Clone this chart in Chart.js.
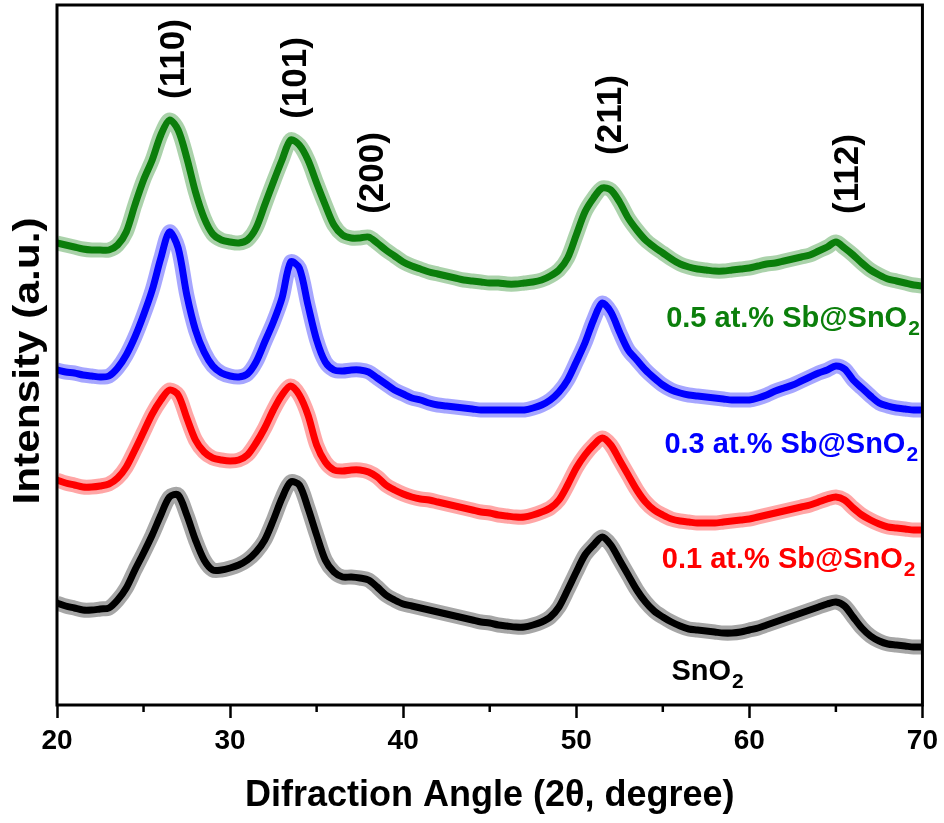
<!DOCTYPE html>
<html>
<head>
<meta charset="utf-8">
<script src="https://cdn.jsdelivr.net/npm/chart.js@4"></script>
<style>
  html, body { margin: 0; padding: 0; background: #fff; }
  canvas { display: block; }
</style>
</head>
<body>
<canvas id="xrd" width="944" height="823"></canvas>
<script>
// 2-theta positions (degree)
const angles = [
  20, 20.5, 21, 21.5, 22, 22.5, 23, 23.5, 24, 24.5, 25, 25.5, 26, 26.5, 27, 27.5, 28, 28.5, 29, 29.5,
  30, 30.5, 31, 31.5, 32, 32.5, 33, 33.5, 34, 34.5, 35, 35.5, 36, 36.5, 37, 37.5, 38, 38.5, 39, 39.5,
  40, 40.5, 41, 41.5, 42, 42.5, 43, 43.5, 44, 44.5, 45, 45.5, 46, 46.5, 47, 47.5, 48, 48.5, 49, 49.5,
  50, 50.5, 51, 51.5, 52, 52.5, 53, 53.5, 54, 54.5, 55, 55.5, 56, 56.5, 57, 57.5, 58, 58.5, 59, 59.5,
  60, 60.5, 61, 61.5, 62, 62.5, 63, 63.5, 64, 64.5, 65, 65.5, 66, 66.5, 67, 67.5, 68, 68.5, 69, 69.5, 70
];

// intensities (a.u., stacked as in the figure)
const sb05 = [
  462, 460, 458, 456, 455, 455, 455, 460, 473, 500, 525, 545, 570, 585, 575, 547, 513, 487, 471, 465,
  463, 462, 465, 477, 500, 523, 545, 565, 560, 545, 522, 500, 480, 470, 467, 467, 468, 462, 455, 449,
  443, 439, 436, 433, 431, 429, 427, 425, 424, 423, 422, 422, 421, 421, 422, 423, 425, 429, 435, 447,
  470, 493, 507, 517, 515, 503, 487, 475, 465, 458, 452, 446, 441, 438, 436, 435, 434, 434, 435, 436,
  437, 439, 441, 442, 444, 446, 448, 450, 454, 458, 463, 457, 450, 442, 435, 430, 426, 424, 422, 420, 419
];
const sb03 = [
  335, 333, 332, 330, 329, 328, 329, 337, 350, 368, 390, 415, 447, 473, 457, 410, 375, 353, 339, 332,
  329, 328, 331, 343, 363, 383, 407, 443, 437, 400, 365, 343, 335, 334, 335, 335, 333, 327, 321, 315,
  311, 307, 305, 302, 300, 299, 298, 297, 296, 295, 295, 295, 295, 295, 295, 297, 300, 305, 313, 325,
  343, 362, 385, 402, 393, 373, 355, 345, 335, 327, 320, 315, 312, 310, 309, 308, 307, 306, 305, 305,
  305, 307, 310, 314, 317, 320, 324, 328, 332, 335, 339, 336, 325, 317, 309, 302, 299, 297, 296, 295, 295
];
const sb01 = [
  225, 222, 220, 218, 218, 219, 221, 227, 238, 255, 273, 291, 305, 315, 310, 287, 265, 253, 247, 245,
  244, 245, 250, 262, 277, 295, 310, 319, 310, 290, 260, 243, 235, 234, 235, 235, 233, 228, 220, 215,
  211, 208, 206, 205, 203, 201, 199, 197, 195, 193, 192, 190, 189, 188, 188, 190, 193, 197, 205, 220,
  237, 250, 260, 267, 260, 245, 230, 215, 203, 195, 190, 186, 184, 183, 182, 182, 182, 183, 184, 185,
  186, 188, 190, 192, 194, 196, 198, 200, 203, 206, 208, 205, 197, 190, 185, 181, 178, 177, 176, 175, 175
];
const sno2 = [
  102, 99, 97, 95, 95, 96, 97, 105, 117, 135, 152, 170, 190, 208, 210, 190, 165, 145, 135, 135,
  137, 140, 145, 153, 165, 185, 207, 223, 220, 197, 170, 145, 133, 128, 128, 127, 125, 118, 110, 105,
  101, 99, 97, 95, 93, 91, 89, 87, 85, 83, 82, 80, 79, 78, 78, 80, 83, 88, 98, 115,
  133, 150, 160, 168, 160, 145, 130, 115, 103, 94, 88, 83, 79, 76, 75, 74, 73, 72, 72, 73,
  75, 77, 80, 83, 86, 89, 92, 95, 98, 101, 103, 99, 88, 77, 69, 64, 61, 60, 59, 58, 58
];

const seriesNames = ["0.5 at.% Sb@SnO", "0.3 at.% Sb@SnO", "0.1 at.% Sb@SnO", "SnO"];
const seriesColors = ["#0b7f0b", "#0000ff", "#ff0000", "#000000"];

// hkl labels: [text, angle, intensity]
const peakLabels = [
  ["(110)", 26.8, 646],
  ["(101)", 33.8, 627],
  ["(200)", 38.3, 532],
  ["(211)", 52.0, 590],
  ["(112)", 65.7, 531]
];
// series labels: [angle, intensity, anchor]
const seriesLabelPos = [
  [69.85, 378, "right"],
  [69.75, 252, "right"],
  [69.6, 137, "right"],
  [55.5, 25, "left"]
];

const FONT = '"Liberation Sans", Arial, sans-serif';

function toPoints(ys) {
  return ys.map((y, i) => ({x: angles[i], y: y}));
}
function fade(hex, a) {
  const n = parseInt(hex.slice(1), 16);
  return `rgba(${n >> 16},${(n >> 8) & 255},${n & 255},${a})`;
}

const allSeries = [sb05, sb03, sb01, sno2];
const datasets = [];
allSeries.forEach((ys, i) => {
  // faint band for the noisy trace, then the dense core
  datasets.push({data: toPoints(ys), borderColor: fade(seriesColors[i], 0.35), borderWidth: 15,
                 pointRadius: 0, tension: 0.3, borderJoinStyle: 'round'});
  datasets.push({data: toPoints(ys), borderColor: seriesColors[i], borderWidth: 7,
                 pointRadius: 0, tension: 0.3, borderJoinStyle: 'round'});
});

const decorations = {
  id: 'decorations',
  afterDraw(chart) {
    const {ctx, chartArea: a, scales: {x, y}} = chart;
    ctx.save();
    // frame
    ctx.strokeStyle = '#000';
    ctx.lineWidth = 3;
    ctx.strokeRect(a.left, a.top, a.right - a.left, a.bottom - a.top);
    // minor ticks
    ctx.lineWidth = 2.5;
    for (let v = 25; v < 70; v += 10) {
      const px = x.getPixelForValue(v);
      ctx.beginPath();
      ctx.moveTo(px, a.bottom);
      ctx.lineTo(px, a.bottom + 7);
      ctx.stroke();
    }
    // y title
    ctx.fillStyle = '#000';
    ctx.font = `bold 36px ${FONT}`;
    ctx.textAlign = 'center';
    ctx.textBaseline = 'middle';
    const yt = 'Intensity (a.u.)';
    const w = ctx.measureText(yt).width;
    ctx.save();
    ctx.translate(29, (a.top + a.bottom) / 2 + 6);
    ctx.rotate(-Math.PI / 2);
    ctx.scale(287 / w, 1);
    ctx.fillText(yt, 0, 0);
    ctx.restore();
    // peak labels
    ctx.font = `bold 35px ${FONT}`;
    for (const [t, ang, val] of peakLabels) {
      ctx.save();
      ctx.translate(x.getPixelForValue(ang), y.getPixelForValue(val));
      ctx.rotate(-Math.PI / 2);
      ctx.fillText(t, 0, 0);
      ctx.restore();
    }
    // series labels with subscript 2
    ctx.textBaseline = 'alphabetic';
    ctx.textAlign = 'left';
    seriesNames.forEach((name, i) => {
      const [ang, val, anchor] = seriesLabelPos[i];
      ctx.font = `bold 29px ${FONT}`;
      const mw = ctx.measureText(name).width;
      ctx.font = `bold 21px ${FONT}`;
      const sw = ctx.measureText('2').width;
      let px = x.getPixelForValue(ang);
      const py = y.getPixelForValue(val);
      if (anchor === 'right') px -= mw + sw + 1;
      ctx.fillStyle = seriesColors[i];
      ctx.font = `bold 29px ${FONT}`;
      ctx.fillText(name, px, py);
      ctx.font = `bold 21px ${FONT}`;
      ctx.fillText('2', px + mw + 1, py + 8);
    });
    ctx.restore();
  }
};

new Chart(document.getElementById('xrd'), {
  type: 'line',
  data: {datasets: datasets},
  options: {
    responsive: false,
    animation: false,
    events: [],
    layout: {padding: {left: 57, right: 20, top: 5, bottom: 0}},
    plugins: {legend: {display: false}, tooltip: {enabled: false}},
    scales: {
      x: {
        type: 'linear',
        min: 20,
        max: 70,
        afterFit: (s) => { s.height = 118; },
        border: {display: false},
        grid: {
          drawOnChartArea: false,
          drawTicks: true,
          tickLength: 13,
          tickWidth: 2.5,
          tickColor: (c) => (c.tick && c.tick.value % 10 === 0) ? '#000' : 'rgba(0,0,0,0)'
        },
        ticks: {
          stepSize: 5,
          padding: 6,
          color: '#000',
          font: {family: FONT, size: 28, weight: 'bold'},
          callback: (v) => v % 10 === 0 ? v : ''
        },
        title: {
          display: true,
          text: 'Difraction Angle (2θ, degree)',
          color: '#000',
          font: {family: FONT, size: 36, weight: 'bold'},
          padding: {top: 0, bottom: 5}
        }
      },
      y: {
        type: 'linear',
        display: false,
        min: 0,
        max: 700
      }
    }
  },
  plugins: [decorations]
});
</script>
</body>
</html>
